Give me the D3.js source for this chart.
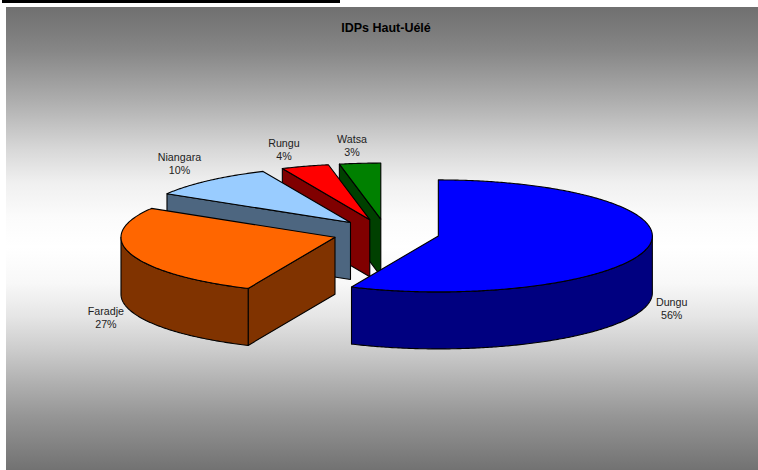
<!DOCTYPE html>
<html><head><meta charset="utf-8">
<style>html,body{margin:0;padding:0;background:#fff}svg{display:block}text{font-family:"Liberation Sans",Arial,sans-serif}</style>
<script src="https://cdn.jsdelivr.net/npm/d3@7"></script>
</head><body><div id="chart"></div>
<script>
const categories = ["Dungu","Faradje","Niangara","Rungu","Watsa"];
const shares = [56.65,26.95,9.7,3.6,3.1];
const shareLabels = ["56%","27%","10%","4%","3%"];
const topColors = ["#0000FF","#FF6600","#99CCFF","#FF0000","#008000"];
const wallColors = ["#000080","#803300","#4D6680","#800000","#004000"];
const labelNudgeX = [24,-25,-29,-21,-8];
const labelNudgeY = [61,63,-17,-17,-18];
const titleText = "IDPs Haut-Uélé";

const W=758,H=470,cx=386,cy=233,rx=214,ry=56,depth=57,explode=0.25;
const svg=d3.select("#chart").append("svg").attr("width",W).attr("height",H);
const grad=svg.append("defs").append("linearGradient").attr("id","bg").attr("gradientUnits","userSpaceOnUse").attr("x1",0).attr("x2",0).attr("y1",7).attr("y2",470);
[[7,0x70],[20,0x76],[50,0x86],[100,0xad],[150,0xd8],[183,0xf0],[217,0xfb],[247,0xff],[283,0xf8],[317,0xe5],[350,0xcc],[383,0xb0],[417,0x95],[470,0x72]]
  .forEach(s=>grad.append("stop").attr("offset",(s[0]-7)/463).attr("stop-color",d3.rgb(s[1],s[1],s[1])));
svg.append("rect").attr("x",2).attr("y",0).attr("width",338).attr("height",3).attr("fill","#000");
svg.append("rect").attr("x",6).attr("y",7).attr("width",W-6).attr("height",H-7).attr("fill","url(#bg)");

const sx=d3.scaleLinear().domain([-1,1]).range([cx-rx,cx+rx]);
const sy=d3.scaleLinear().domain([-1,1]).range([cy-ry,cy+ry]);
const arcs=d3.pie().sort(null).value(d=>d)(shares);
const tau=2*Math.PI;
const line=d3.line().x(d=>d[0]).y(d=>d[1]);

function slice(a){
  const mid=(a.startAngle+a.endAngle)/2;
  const ox=explode*Math.sin(mid), oy=-explode*Math.cos(mid);
  const pt=(t,dz=0)=>[sx(ox+Math.sin(t)),sy(oy-Math.cos(t))+dz];
  const apex=(dz=0)=>[sx(ox),sy(oy)+dz];
  const sample=(t0,t1)=>{const n=Math.max(2,Math.ceil(Math.abs(t1-t0)/0.01));return d3.range(n+1).map(i=>t0+(t1-t0)*i/n);};
  return {mid,pt,apex,sample};
}
function draw(a,i){
  const s=slice(a), g=svg.append("g");
  const style=(p,fill)=>p.attr("fill",fill).attr("stroke","#000").attr("stroke-width",1.1).attr("stroke-linejoin","round");
  if(a.startAngle>Math.PI && a.startAngle<tau){
    style(g.append("path").attr("d",line([s.apex(),s.pt(a.startAngle),s.pt(a.startAngle,depth),s.apex(depth)])+"Z"),wallColors[i]);
  }
  const f0=Math.max(a.startAngle,Math.PI/2), f1=Math.min(a.endAngle,3*Math.PI/2);
  if(f1>f0){
    const ts=s.sample(f0,f1);
    const pts=ts.map(t=>s.pt(t)).concat(ts.slice().reverse().map(t=>s.pt(t,depth)));
    style(g.append("path").attr("d",line(pts)+"Z"),wallColors[i]);
  }
  const top=[s.apex()].concat(s.sample(a.startAngle,a.endAngle).map(t=>s.pt(t)));
  style(g.append("path").attr("d",line(top)+"Z"),topColors[i]);
}
arcs.map((a,i)=>[a,i]).reverse().forEach(([a,i])=>draw(a,i));

svg.append("text").attr("x",386).attr("y",32).attr("text-anchor","middle").attr("font-size",12.5).attr("font-weight","bold").attr("fill","#000").text(titleText);

arcs.forEach((a,i)=>{
  const s=slice(a), p=s.pt(s.mid);
  const t=svg.append("text").attr("text-anchor","middle").attr("font-size",10.7).attr("fill","#222");
  t.append("tspan").attr("x",p[0]+labelNudgeX[i]).attr("y",p[1]+labelNudgeY[i]-2.5).text(categories[i]);
  t.append("tspan").attr("x",p[0]+labelNudgeX[i]).attr("y",p[1]+labelNudgeY[i]+10.5).text(shareLabels[i]);
});
</script></body></html>
